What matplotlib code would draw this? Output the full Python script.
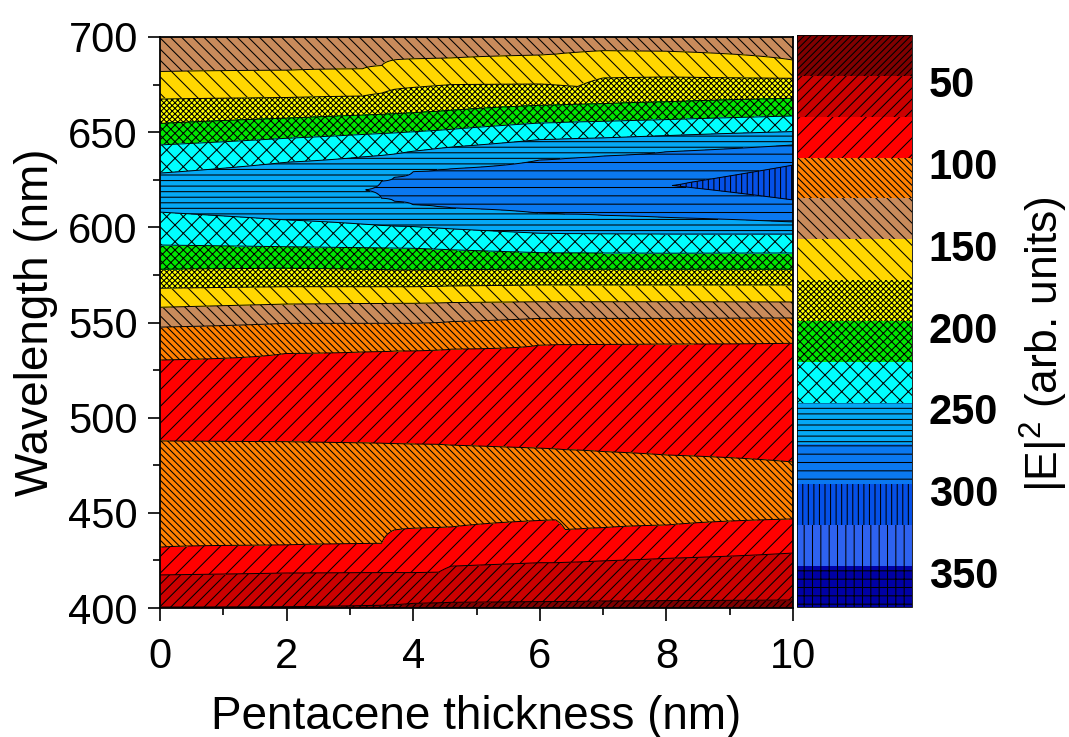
import numpy as np
import matplotlib
matplotlib.use("Agg")
import matplotlib.pyplot as plt
import matplotlib.transforms as mtransforms
from matplotlib.ticker import MultipleLocator

plt.rcParams['font.family'] = ['Liberation Sans', 'DejaVu Sans']
plt.rcParams['mathtext.fontset'] = 'custom'
plt.rcParams['mathtext.rm'] = 'Liberation Sans'
plt.rcParams['mathtext.it'] = 'Liberation Sans:italic'
plt.rcParams['hatch.linewidth'] = 0.75
plt.rcParams['hatch.color'] = 'black'

# ---------------- data ----------------
# thickness columns (nm) at which contour-boundary wavelengths were read
thickness_nodes = [0, 2, 3.2, 3.5, 3.7, 4, 4.4, 4.6, 6, 6.25, 6.4, 6.6, 7, 8, 10]

# |E|^2 at the bottom (400 nm) and top (700 nm) of each column
e2_at_400 = [49.2, 49.3, 48.9, 48.6, 48.3, 47.8, 47.5, 46.6, 46.3, 46.3, 46.2, 46.2, 46.1, 46.1, 45.7]
e2_at_700 = [140, 140, 140, 140, 140, 140, 140, 140, 140, 140, 140, 140, 140, 140, 140]

# wavelength (nm) of each level crossing, lower half (below the field maximum)
b50 = [400.5, 400.7, 401.3, 401.5, 401.8, 402.5, 402.8, 403.0, 403.4, 403.4, 403.5, 403.5, 403.7, 403.9, 404.2]
b75 = [417.4, 418.4, 418.6, 418.6, 418.6, 418.6, 418.8, 422.0, 423.8, 423.8, 424.0, 424.2, 424.8, 426.1, 428.9]
b100a = [432.0, 433.1, 433.8, 434.0, 441.0, 441.9, 442.3, 442.6, 446.0, 446.3, 441.2, 441.5, 442.2, 443.6, 446.8]
b100b = [487.8, 487.4, 486.8, 486.6, 486.4, 486.2, 486.0, 485.6, 484.0, 483.6, 483.2, 483.0, 482.2, 480.4, 476.7]
b100c = [530.3, 533.8, 534.6, 534.8, 535.0, 535.2, 535.6, 536.0, 538.2, 538.4, 538.5, 538.5, 538.6, 538.7, 539.2]
b125_low = [547.6, 549.6, 549.6, 549.6, 549.6, 549.6, 550.0, 550.5, 552.2, 552.2, 552.2, 552.2, 552.2, 552.2, 552.4]
b150_low = [558.0, 559.7, 560.0, 560.0, 560.1, 560.1, 560.3, 560.5, 560.9, 560.9, 560.9, 560.9, 560.9, 560.9, 560.8]
b175_low = [568.0, 568.8, 568.8, 568.8, 568.8, 568.8, 569.0, 569.2, 569.7, 569.7, 569.7, 569.7, 569.7, 569.7, 569.7]
b200_low = [578.0, 578.5, 578.0, 577.8, 577.6, 577.6, 577.7, 577.8, 578.0, 578.0, 578.0, 578.0, 578.0, 578.0, 578.0]
b225_low = [590.7, 589.8, 589.3, 589.2, 589.1, 589.0, 588.5, 588.2, 586.7, 586.6, 586.6, 586.6, 586.5, 586.4, 586.5]
b250_low = [608.0, 603.9, 601.7, 601.0, 600.7, 600.4, 599.6, 599.2, 596.9, 596.8, 596.7, 596.7, 596.6, 596.5, 596.5]
b275_low = [np.nan, np.nan, np.nan, 615.3, 613.7, 611.8, 610.8, 610.2, 607.4, 607.2, 607.0, 606.9, 606.3, 605.2, 602.8]
b300_low = [np.nan] * 14 + [614.4]

# field maximum in each column
peak_wl = [618.6, 619.0, 619.6, 619.8, 620.0, 620.5, 620.7, 620.8, 621.0, 621.2, 621.3, 621.4, 621.6, 622.0, 623.5]
peak_e2 = [268, 271, 274.8, 276.5, 277.5, 279, 281, 282, 290, 291, 292, 293, 295, 299.5, 312]

# upper half (above the field maximum)
b300_up = [np.nan] * 14 + [632.7]
b275_up = [np.nan, np.nan, np.nan, 624.3, 626.3, 629.3, 630.3, 630.8, 635.4, 635.8, 636.2, 636.6, 637.5, 639.7, 643.3]
b250_up = [628.5, 634.2, 637.0, 637.8, 638.5, 640.0, 641.5, 642.2, 646.1, 646.3, 646.5, 646.7, 647.0, 648.2, 650.3]
b225_up = [643.3, 646.8, 648.8, 649.3, 649.6, 650.2, 651.0, 651.5, 654.8, 655.0, 655.2, 655.4, 655.7, 656.6, 658.5]
b200_up = [654.6, 657.4, 659.0, 659.4, 659.7, 660.2, 661.0, 661.5, 664.1, 664.3, 664.5, 664.7, 665.0, 666.0, 667.8]
b175_up = [667.4, 668.2, 669.0, 670.5, 672.5, 673.5, 674.5, 675.0, 675.3, 674.8, 674.4, 674.0, 678.5, 679.0, 678.3]
b150_up = [681.8, 682.5, 683.3, 685.0, 688.0, 688.5, 688.8, 689.0, 690.5, 691.0, 691.5, 692.0, 692.8, 692.5, 687.9]

# local maximum (orange band) and local minimum (red band) inside the lower half
orange_max_wl, orange_max_e2 = 460, 112
red_min_wl, red_min_e2 = 510, 88

levels = [25, 50, 75, 100, 125, 150, 175, 200, 225, 250, 275, 300, 325, 350, 375]
cbar_ticks = [50, 100, 150, 200, 250, 300, 350]
band_colors = ['#800000', '#CC0000', '#FF0000', '#FF8000', '#C98B5B', '#FFD700', '#FFFF00',
               '#00E600', '#00FFFF', '#05A8F5', '#0A78F0', '#0550E8', '#2E62F0', '#0000A5']
band_hatches = ['/////', '///', '//', '\\' * 5, '\\' * 3, '\\' * 2, 'xxxxxx', 'xxxx', 'xx',
                '---', '--', '|||', '||', '++']

# ---------------- build the field from the read crossings ----------------
wl = np.linspace(400, 700, 901)
cols = []
for i in range(len(thickness_nodes)):
    pts = [(400, e2_at_400[i]), (b50[i], 50), (b75[i], 75), (b100a[i], 100),
           (orange_max_wl, orange_max_e2), (b100b[i], 100), (red_min_wl, red_min_e2),
           (b100c[i], 100), (b125_low[i], 125), (b150_low[i], 150), (b175_low[i], 175),
           (b200_low[i], 200), (b225_low[i], 225), (b250_low[i], 250), (b275_low[i], 275),
           (b300_low[i], 300), (peak_wl[i], peak_e2[i]), (b300_up[i], 300),
           (b275_up[i], 275), (b250_up[i], 250), (b225_up[i], 225), (b200_up[i], 200),
           (b175_up[i], 175), (b150_up[i], 150), (700, e2_at_700[i])]
    pts = [p for p in pts if not np.isnan(p[0])]
    w = np.array([p[0] for p in pts])
    v = np.array([p[1] for p in pts])
    cols.append(np.interp(wl, w, v))
cols = np.array(cols)
xt = np.linspace(0, 10, 401)
Z = np.empty((len(wl), len(xt)))
for j in range(len(wl)):
    Z[j] = np.interp(xt, thickness_nodes, cols[:, j])
X, Y = np.meshgrid(xt, wl)

# ---------------- plot ----------------
fig = plt.figure(figsize=(10.69, 7.37), dpi=100)
ax = fig.add_axes([0.1497, 0.175, 0.5921, 0.7748])
cax = fig.add_axes([0.7456, 0.1764, 0.1076, 0.776])

cf = ax.contourf(X, Y, Z, levels=levels, colors=band_colors, hatches=band_hatches)
ax.contour(X, Y, Z, levels=levels, colors='black', linewidths=0.7)

ax.set_xlim(0, 10)
ax.set_ylim(400, 700)
ax.xaxis.set_major_locator(MultipleLocator(2))
ax.xaxis.set_minor_locator(MultipleLocator(1))
ax.yaxis.set_major_locator(MultipleLocator(50))
ax.yaxis.set_minor_locator(MultipleLocator(25))
ax.tick_params(which='major', direction='out', length=9, width=1.2, labelsize=30)
ax.tick_params(which='minor', direction='out', length=5, width=1.2)
ax.tick_params(axis='x', which='major', pad=12)
ax.tick_params(axis='y', which='major', pad=7)
for s in ax.spines.values():
    s.set_linewidth(1.3)

ax.set_xlabel('Pentacene thickness (nm)', fontsize=33)
ax.set_ylabel('Wavelength (nm)', fontsize=33)
ax.xaxis.set_label_coords(0.5, -0.152)
ax.yaxis.set_label_coords(-0.161, 0.5)

cbar = fig.colorbar(cf, cax=cax)
cbar.ax.invert_yaxis()
cbar.set_ticks(cbar_ticks)
cbar.ax.tick_params(length=0, pad=12)
offset = mtransforms.ScaledTranslation(0, -0.06, fig.dpi_scale_trans)
for lab in cbar.ax.get_yticklabels():
    lab.set_fontsize(30)
    lab.set_fontweight('bold')
    lab.set_transform(lab.get_transform() + offset)
cbar.outline.set_linewidth(0.6)
cbar.set_label('|E|$^{2}$ (arb. units)', fontsize=32, rotation=90)
cbar.ax.yaxis.set_label_coords(1.92, 0.46)

fig.savefig('out.png', dpi=100)
